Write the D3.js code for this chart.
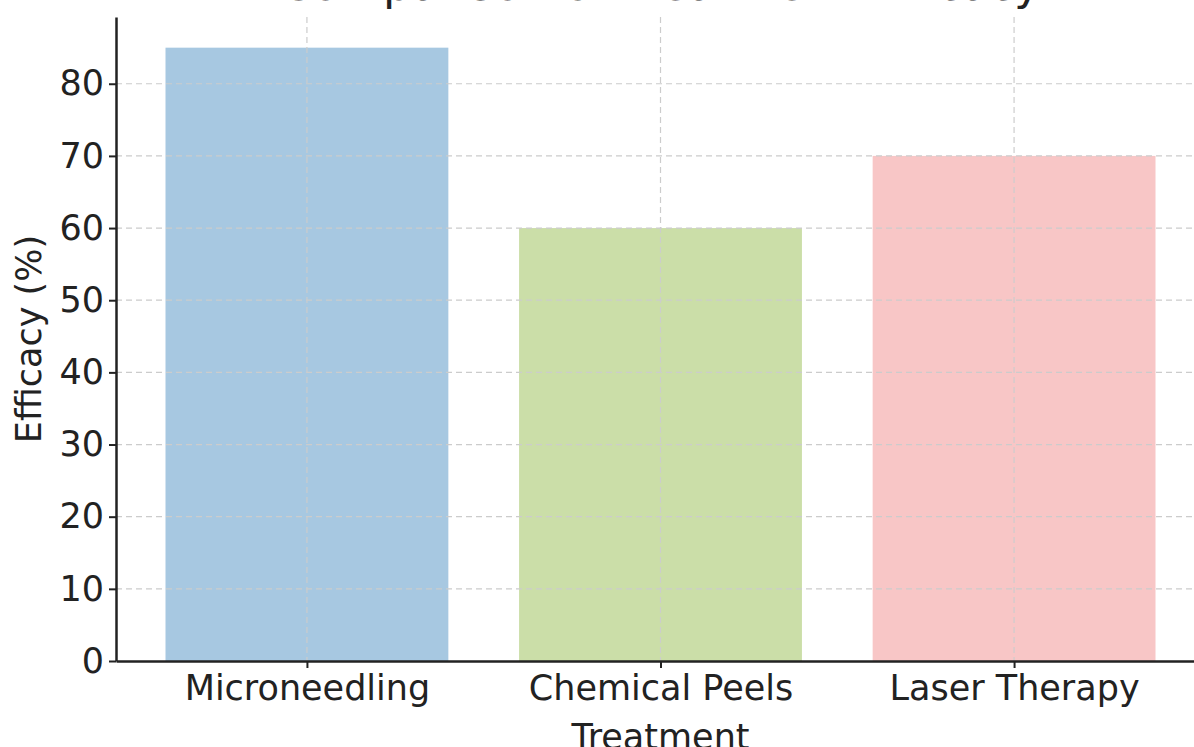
<!DOCTYPE html>
<html>
<head>
<meta charset="utf-8">
<script src="https://cdn.jsdelivr.net/npm/d3@7"></script>
<style>
  body { margin: 0; background: #fff; }
  svg { font-family: "DejaVu Sans", sans-serif; display: block; }
  .grid line { stroke: #cccccc; stroke-dasharray: 6,4; stroke-width: 1.2; }
  .axis path, .axis line { stroke: #222; }
</style>
</head>
<body>
<div id="chart-area"></div>
<script>
var treatments = ["Microneedling", "Chemical Peels", "Laser Therapy"];
var efficacy = [85, 60, 70];
var barColors = ["#a7c8e1", "#cbdea8", "#f8c6c6"];
var yTicks = [0, 10, 20, 30, 40, 50, 60, 70, 80];

var W = 1194, H = 747;
var margin = {top: 17, right: -11, bottom: 86, left: 116},
    width = W - margin.left - margin.right,
    height = H - margin.top - margin.bottom;

var svg = d3.select("#chart-area")
    .append("svg")
        .attr("width", W)
        .attr("height", H);

var g = svg.append("g")
    .attr("transform", "translate(" + margin.left + "," + margin.top + ")");

// index scale like matplotlib, bars 0.8 wide with 5% margins
var x = d3.scaleLinear()
    .domain([-0.54, treatments.length - 1 + 0.54])
    .range([0, width]);

var y = d3.scaleLinear()
    .domain([0, d3.max(efficacy) * 1.05])
    .range([height, 0]);

// bars
g.selectAll("rect.bar")
    .data(efficacy)
    .enter().append("rect")
        .attr("class", "bar")
        .attr("x", (d, i) => x(i - 0.4))
        .attr("width", x(0.4) - x(-0.4))
        .attr("y", d => y(d))
        .attr("height", d => height - y(d))
        .attr("fill", (d, i) => barColors[i]);

// grid (drawn over the bars)
var grid = g.append("g").attr("class", "grid");

grid.selectAll("line.h")
    .data(yTicks.slice(1))
    .enter().append("line")
        .attr("class", "h")
        .attr("x1", 0).attr("x2", width)
        .attr("y1", d => y(d)).attr("y2", d => y(d));

grid.selectAll("line.v")
    .data(treatments)
    .enter().append("line")
        .attr("class", "v")
        .attr("x1", (d, i) => x(i)).attr("x2", (d, i) => x(i))
        .attr("y1", 0).attr("y2", height);

// axes
var xAxisCall = d3.axisBottom(x)
    .tickValues(d3.range(treatments.length))
    .tickFormat(i => treatments[i])
    .tickSize(7)
    .tickSizeOuter(0)
    .tickPadding(7);

var xAxis = g.append("g")
    .attr("class", "x axis")
    .attr("transform", "translate(0," + height + ")")
    .call(xAxisCall);

var yAxisCall = d3.axisLeft(y)
    .tickValues(yTicks)
    .tickSize(7)
    .tickSizeOuter(0)
    .tickPadding(5);

var yAxis = g.append("g")
    .attr("class", "y axis")
    .call(yAxisCall);

[xAxis, yAxis].forEach(a => {
    a.select(".domain").attr("stroke-width", 2.5);
    a.selectAll(".tick line").attr("stroke-width", 2);
    a.selectAll(".tick text")
        .attr("font-size", "35px")
        .attr("fill", "#222")
        .attr("font-family", "DejaVu Sans, sans-serif");
});

// labels
g.append("text")
    .attr("x", x(1))
    .attr("y", height + 88)
    .attr("font-size", "35px")
    .attr("fill", "#222")
    .attr("text-anchor", "middle")
    .text("Treatment");

g.append("text")
    .attr("x", -(height / 2))
    .attr("y", -75)
    .attr("font-size", "35px")
    .attr("fill", "#222")
    .attr("text-anchor", "middle")
    .attr("transform", "rotate(-90)")
    .text("Efficacy (%)");

svg.append("text")
    .attr("x", margin.left + x(1))
    .attr("y", 0)
    .attr("font-size", "45px")
    .attr("fill", "#222")
    .attr("text-anchor", "middle")
    .text("Comparison of Treatment Efficacy");
</script>
</body>
</html>
